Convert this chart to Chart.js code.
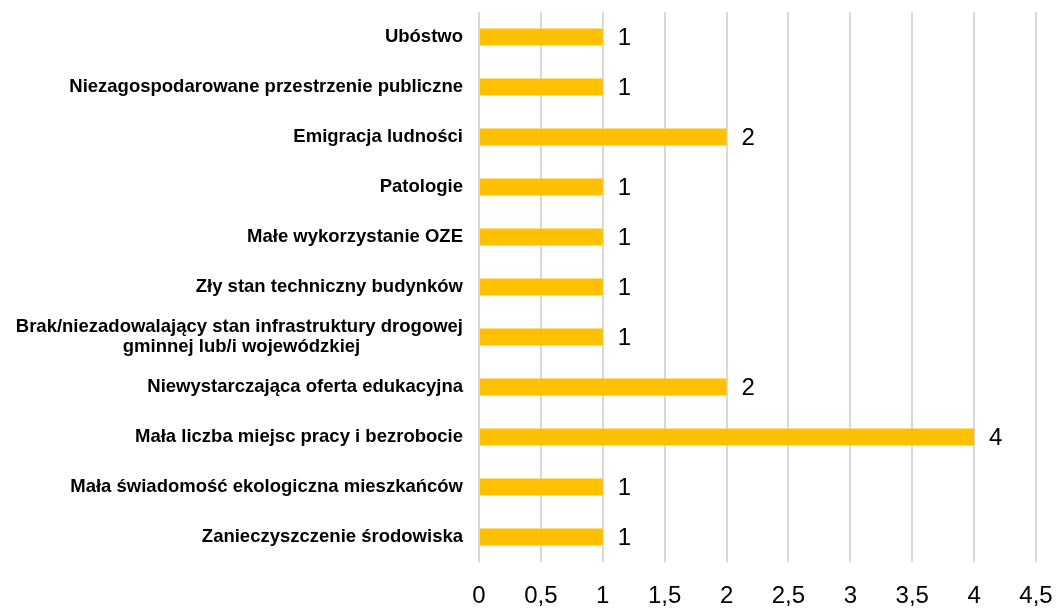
<!DOCTYPE html>
<html>
<head>
<meta charset="utf-8">
<script src="https://cdn.jsdelivr.net/npm/chart.js@4"></script>
<style>
  body { margin: 0; background: #fff; }
  #wrap { width: 1059px; height: 608px; }
</style>
</head>
<body>
<div id="wrap"><canvas id="chart" width="1059" height="608"></canvas></div>
<script>
const CATEGORIES = [
    ['Ubóstwo'],
    ['Niezagospodarowane przestrzenie publiczne'],
    ['Emigracja ludności'],
    ['Patologie'],
    ['Małe wykorzystanie OZE'],
    ['Zły stan techniczny budynków'],
    ['Brak/niezadowalający stan infrastruktury drogowej', 'gminnej lub/i wojewódzkiej'],
    ['Niewystarczająca oferta edukacyjna'],
    ['Mała liczba miejsc pracy i bezrobocie'],
    ['Mała świadomość ekologiczna mieszkańców'],
    ['Zanieczyszczenie środowiska']
  ],
  VALUES = [1, 1, 2, 1, 1, 1, 1, 2, 4, 1, 1],
  X_MIN = 0, X_MAX = 4.5, X_STEP = 0.5;

const FONT = "'Liberation Sans', Arial, sans-serif", LABEL_PX = 18.5;

// pad shorter lines with spaces so multi-line labels look centred
const measureCtx = document.createElement('canvas').getContext('2d');
function centerLines(lines) {
    if (lines.length < 2) return lines[0];
    measureCtx.font = `bold ${LABEL_PX}px ${FONT}`;
    const w = lines.map(l => measureCtx.measureText(l).width), max = Math.max(...w);
    const sp = measureCtx.measureText(' ').width;
    return lines.map((l, i) => l + ' '.repeat(Math.round((max - w[i]) / 2 / sp)));
}

const valueLabels = {
    id: 'valueLabels',
    afterDatasetsDraw(chart) {
        const ctx = chart.ctx, meta = chart.getDatasetMeta(0);
        ctx.save();
        ctx.font = `24px ${FONT}`; ctx.fillStyle = '#000';
        ctx.textAlign = 'left'; ctx.textBaseline = 'middle';
        meta.data.forEach((bar, i) => ctx.fillText(String(VALUES[i]), bar.x + 15, bar.y + 1));
        ctx.restore();
    }
};

new Chart(document.getElementById('chart'), {
    type: 'bar',
    data: {
        labels: CATEGORIES.map(centerLines),
        datasets: [{ data: VALUES, backgroundColor: '#FFC000', barPercentage: 0.34, categoryPercentage: 1 }]
    },
    options: {
        indexAxis: 'y', responsive: false, animation: false,
        layout: { padding: { top: 12, right: 23, left: 0, bottom: 0 } },
        plugins: { legend: { display: false }, tooltip: { enabled: false } },
        scales: {
            x: {
                min: X_MIN, max: X_MAX,
                border: { display: false },
                grid: { color: '#d9d9d9', lineWidth: 2, drawTicks: false },
                ticks: { stepSize: X_STEP, padding: 20, color: '#000', font: { family: FONT, size: 24 },
                         callback: v => String(v).replace('.', ',') },
                afterFit: s => { s.height = 46; s.paddingLeft = 0; s.paddingRight = 0; }
            },
            y: {
                border: { display: false },
                grid: { display: false, drawTicks: false },
                ticks: { padding: 16, color: '#000', autoSkip: false,
                         font: { family: FONT, size: LABEL_PX, weight: 'bold', lineHeight: 1.05 } },
                afterFit: s => { s.width = 479; s.paddingTop = 0; s.paddingBottom = 0; }
            }
        }
    },
    plugins: [valueLabels]
});
</script>
</body>
</html>
